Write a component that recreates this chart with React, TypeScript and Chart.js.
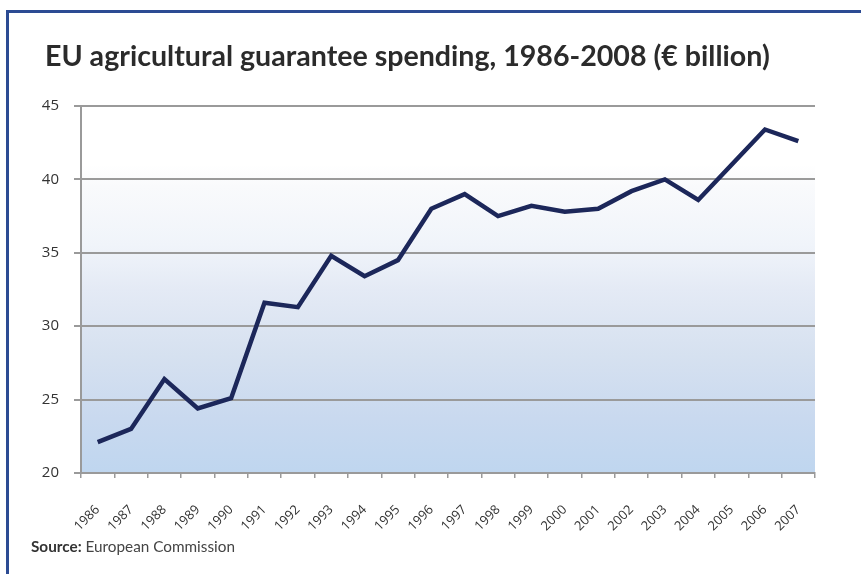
import React, { useEffect, useRef } from "react";
import { Chart, registerables } from "chart.js";

Chart.register(...registerables);

const years: string[] = [
  "1986", "1987", "1988", "1989", "1990", "1991", "1992", "1993", "1994", "1995", "1996",
  "1997", "1998", "1999", "2000", "2001", "2002", "2003", "2004", "2005", "2006", "2007",
];

const spending: number[] = [
  22.1, 23.0, 26.4, 24.4, 25.1, 31.6, 31.3, 34.8, 33.4, 34.5, 38.0,
  39.0, 37.5, 38.2, 37.8, 38.0, 39.2, 40.0, 38.6, 41.0, 43.4, 42.6,
];

const yMin = 20;
const yMax = 45;
const yStep = 5;

const titleText = "EU agricultural guarantee spending, 1986-2008 (€ billion)";
const sourceLabel = "Source:";
const sourceText = "European Commission";

const bgPlugin = {
  id: "plotBg",
  beforeDraw(chart: any) {
    const { ctx, chartArea } = chart;
    if (!chartArea) return;
    const { left, top, right, bottom } = chartArea;
    const h = bottom - top;
    const g = ctx.createLinearGradient(0, top, 0, bottom);
    g.addColorStop(0, "#ffffff");
    g.addColorStop(0.16, "#ffffff");
    g.addColorStop(0.22, "#f9fafc");
    g.addColorStop(0.38, "#f0f4fa");
    g.addColorStop(0.5, "#e4eaf5");
    g.addColorStop(0.68, "#d6e1f0");
    g.addColorStop(0.85, "#c9d9ef");
    g.addColorStop(1, "#bfd6ef");
    ctx.save();
    ctx.fillStyle = g;
    ctx.fillRect(left, top, right - left, h);
    ctx.restore();
  },
};

export default function App() {
  const ref = useRef<HTMLCanvasElement | null>(null);

  useEffect(() => {
    if (!ref.current) return;
    const chart = new Chart(ref.current, {
      type: "line",
      data: {
        labels: years,
        datasets: [
          {
            data: spending,
            borderColor: "#1c275a",
            borderWidth: 4.5,
            pointRadius: 0,
            tension: 0,
            fill: false,
            borderJoinStyle: "miter",
          },
        ],
      },
      options: {
        responsive: false,
        animation: false,
        devicePixelRatio: 1,
        layout: { padding: { left: 0, top: 106, right: 46, bottom: 0 } },
        plugins: {
          legend: { display: false },
          title: { display: false },
          tooltip: { enabled: false },
        },
        scales: {
          x: {
            type: "category",
            offset: true,
            grid: {
              offset: true,
              drawOnChartArea: false,
              drawTicks: true,
              tickLength: 5,
              color: "#9a9a9a",
              lineWidth: 1.5,
            },
            border: { display: true, color: "#9a9a9a", width: 2 },
            ticks: {
              maxRotation: 45,
              minRotation: 45,
              autoSkip: false,
              padding: 24,
              color: "#333333",
              font: { family: "'Open Sans', sans-serif", size: 13 },
            },
            afterFit(scale: any) {
              scale.height = 101;
            },
          },
          y: {
            min: yMin,
            max: yMax,
            grid: {
              color: "#9a9a9a",
              lineWidth: 2,
              drawTicks: true,
              tickLength: 7,
            },
            border: { display: true, color: "#9a9a9a", width: 2 },
            ticks: {
              stepSize: yStep,
              padding: 15,
              color: "#333333",
              font: { family: "'Open Sans', sans-serif", size: 15 },
            },
            afterFit(scale: any) {
              scale.width = 81;
            },
          },
        },
      },
      plugins: [bgPlugin],
    } as any);
    return () => chart.destroy();
  }, []);

  return (
    <div style={{ position: "absolute", left: 0, top: 0, width: 861, height: 574, overflow: "hidden", background: "#ffffff" }}>
      <div
        style={{
          position: "absolute",
          left: 6,
          top: 10,
          width: 900,
          height: 700,
          borderTop: "3px solid #2c4b93",
          borderLeft: "3px solid #2c4b93",
        }}
      />
      <canvas ref={ref} width={861} height={574} style={{ position: "absolute", left: 0, top: 0 }} />
      <div
        style={{
          position: "absolute",
          left: 45,
          top: 37,
          fontFamily: "Lato, sans-serif",
          fontWeight: 700,
          fontSize: 28.6,
          color: "#2b2b2b",
          whiteSpace: "nowrap",
          lineHeight: "36px",
        }}
      >
        {titleText}
      </div>
      <div
        style={{
          position: "absolute",
          left: 31,
          top: 536,
          fontFamily: "Lato, sans-serif",
          fontSize: 15.3,
          color: "#444444",
          whiteSpace: "nowrap",
          lineHeight: "20px",
        }}
      >
        <span style={{ fontWeight: 700, color: "#333333" }}>{sourceLabel}</span> {sourceText}
      </div>
    </div>
  );
}
